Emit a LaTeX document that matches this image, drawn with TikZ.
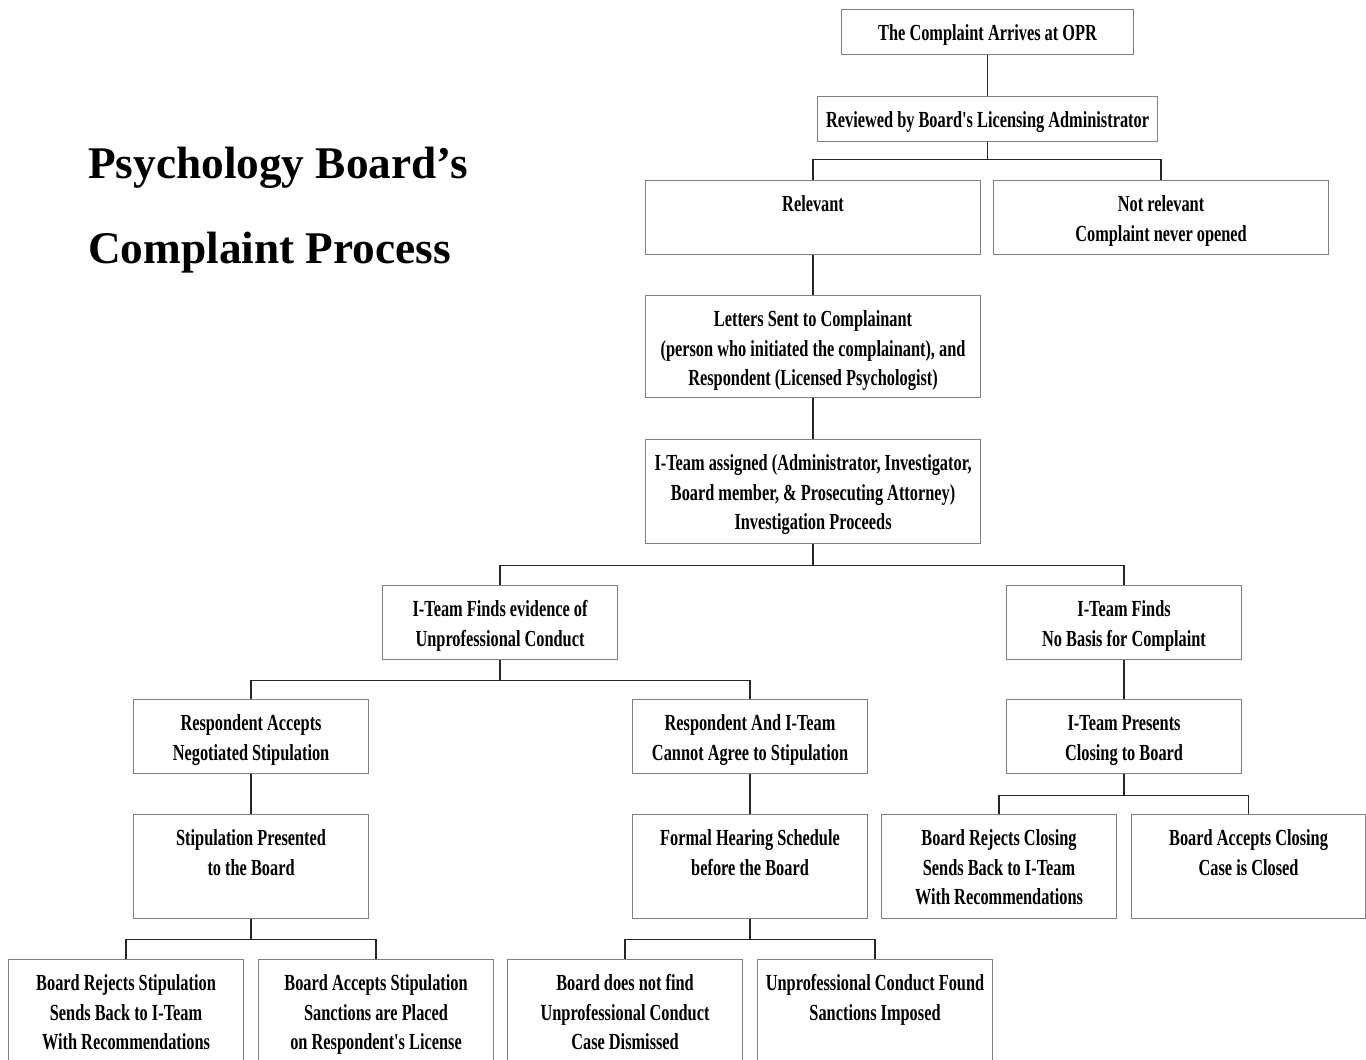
\documentclass[tikz,border=0pt]{standalone}
\usepackage{fontspec}
\setmainfont{Liberation Serif}
\newfontfamily\condfont{Liberation Serif}[FakeStretch=0.71,Ligatures=TeXOff]
\tikzset{
  boxst/.style={draw=black!50, line width=1.1pt, rectangle, inner sep=0pt, anchor=north west},
  conn/.style={draw=black!85, line width=1.2pt},
  titlest/.style={anchor=base west, inner sep=0pt, font=\bfseries\fontsize{45.3}{50}\selectfont},
}
\newcommand\bx[6]{%
  \node[boxst] (#1) at (#2,#3) {\parbox[t][#5pt][t]{#4pt}{\centering\condfont\bfseries\fontsize{23}{29.5}\selectfont\rule{0pt}{31pt}#6}};}
\begin{document}
\begin{tikzpicture}[x=1pt,y=-1pt]
\useasboundingbox (0,0) rectangle (1366,1060);
\clip (0,0) rectangle (1366,1060);
\fill[white] (0,0) rectangle (1366,1060);
% title
\node[titlest] (t1) at (88,178) {Psychology Board’s};
\node[titlest] (t2) at (88,263) {Complaint Process};
% boxes
\bx{top}{841}{9}{292}{45}{The Complaint Arrives at OPR}
\bx{rev}{817}{96}{340}{45}{Reviewed by Board's Licensing Administrator}
\bx{rel}{645}{180}{335}{74}{Relevant}
\bx{notrel}{993}{180}{335}{74}{Not relevant\\Complaint never opened}
\bx{letters}{645}{295}{335}{102}{Letters Sent to Complainant\\(person who initiated the complainant), and\\Respondent (Licensed Psychologist)}
\bx{iteam}{645}{439}{335}{104}{I-Team assigned (Administrator, Investigator,\\Board member, \& Prosecuting Attorney)\\Investigation Proceeds}
\bx{evid}{382}{585}{235}{74}{I-Team Finds evidence of\\Unprofessional Conduct}
\bx{nobasis}{1006}{585}{235}{74}{I-Team Finds\\No Basis for Complaint}
\bx{accepts}{133}{699}{235}{74}{Respondent Accepts\\Negotiated Stipulation}
\bx{cannot}{632}{699}{235}{74}{Respondent And I-Team\\Cannot Agree to Stipulation}
\bx{presents}{1006}{699}{235}{74}{I-Team Presents\\Closing to Board}
\bx{stippres}{133}{814}{235}{104}{Stipulation Presented\\to the Board}
\bx{formal}{632}{814}{235}{104}{Formal Hearing Schedule\\before the Board}
\bx{rejclose}{881}{814}{235}{104}{Board Rejects Closing\\Sends Back to I-Team\\With Recommendations}
\bx{accclose}{1131}{814}{234}{104}{Board Accepts Closing\\Case is Closed}
\bx{rejstip}{8}{959}{235}{112}{Board Rejects Stipulation\\Sends Back to I-Team\\With Recommendations}
\bx{accstip}{258}{959}{235}{112}{Board Accepts Stipulation\\Sanctions are Placed\\on Respondent's License}
\bx{notfind}{507}{959}{235}{112}{Board does not find\\Unprofessional Conduct\\Case Dismissed}
\bx{found}{757}{959}{235}{112}{Unprofessional Conduct Found\\Sanctions Imposed}
% connectors
\draw[conn] (top.south) -- (top.south |- rev.north);
\draw[conn] (rev.south) -- ++(0,17) -| (rel.north);
\draw[conn] (rev.south) -- ++(0,17) -| (notrel.north);
\draw[conn] (rel.south) -- (letters.north);
\draw[conn] (letters.south) -- (iteam.north);
\draw[conn] (iteam.south) -- ++(0,21) -| (evid.north);
\draw[conn] (iteam.south) -- ++(0,21) -| (nobasis.north);
\draw[conn] (evid.south) -- ++(0,20) -| (accepts.north);
\draw[conn] (evid.south) -- ++(0,20) -| (cannot.north);
\draw[conn] (nobasis.south) -- (presents.north);
\draw[conn] (accepts.south) -- (stippres.north);
\draw[conn] (cannot.south) -- (formal.north);
\draw[conn] (presents.south) -- ++(0,21) -| (rejclose.north);
\draw[conn] (presents.south) -- ++(0,21) -| (accclose.north);
\draw[conn] (stippres.south) -- ++(0,20) -| (rejstip.north);
\draw[conn] (stippres.south) -- ++(0,20) -| (accstip.north);
\draw[conn] (formal.south) -- ++(0,20) -| (notfind.north);
\draw[conn] (formal.south) -- ++(0,20) -| (found.north);
\end{tikzpicture}
\end{document}
